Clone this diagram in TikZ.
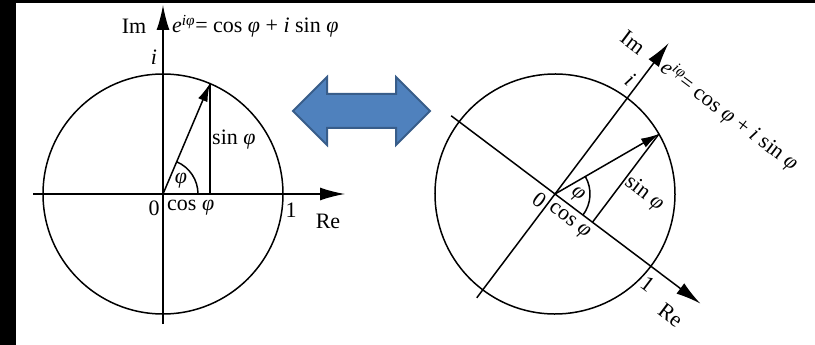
\documentclass[tikz,border=0pt]{standalone}
\usepackage{fontspec}
\setmainfont{Liberation Serif}
\usetikzlibrary{arrows.meta}
\newcommand\vphi{\textit{φ}}
\newcommand\eulerpic{%
  \coordinate (O) at (0,0);
  \coordinate (ReNeg) at (-130,0);
  \coordinate (RePos) at (182,0);
  \coordinate (ImNeg) at (0,-130);
  \coordinate (ImPos) at (0,189);
  \coordinate (P) at (67:120);
  \coordinate (F) at (P |- O);
  \coordinate (A) at (35,0);
  \draw[thinline] (O) circle[radius=120];
  \draw[axisarrow] (ReNeg) -- (RePos);
  \draw[axisarrow] (ImNeg) -- (ImPos);
  \draw[vecarrow] (O) -- (P);
  \draw[thinline] (P) -- (F);
  \draw[thinline] (A) arc[start angle=0,end angle=67,radius=35];
  \node[lbl] (im) at (-29,168) {Im};
  \node[lbl] (ii) at (-9,137) {\textit{i}};
  \node[lbl,anchor=base west] (eq) at (9,161) {\textit{e}\textsuperscript{\itshape iφ}= cos \vphi{} + \textit{i} sin \vphi};
  \node[lbl,anchor=west] (sn) at (49,54) {sin \vphi};
  \node[lbl] (ph) at (18,13) {\vphi};
  \node[lbl] (zero) at (-9,-14) {0};
  \node[lbl,anchor=west] (cs) at (4,-14) {cos \vphi};
  \node[lbl] (one) at (128,-16) {1};
  \node[lbl] (re) at (165,-27) {Re};
}
\tikzset{
  thinline/.style={line width=1.5pt, black},
  axisarrow/.style={thinline, -{Latex[length=25pt,width=13pt]}},
  vecarrow/.style={thinline, -{Latex[length=18pt,width=10pt]}},
  lbl/.style={font=\fontsize{22}{26}\selectfont, inner sep=0pt},
}
\begin{document}
\begin{tikzpicture}[x=1pt,y=1pt]
  \fill[black] (0,0) rectangle (815,-345);
  \fill[white] (16,-3) rectangle (815,-345);
  \useasboundingbox (0,0) rectangle (815,-345);
  \begin{scope}[shift={(163,-194)}, name prefix=L-]
    \eulerpic
  \end{scope}
  \begin{scope}[shift={(555,-194)}, rotate=-37, transform shape, name prefix=R-]
    \eulerpic
  \end{scope}
  \draw[fill={rgb,255:red,79;green,129;blue,189}, draw={rgb,255:red,56;green,93;blue,138}, line width=2pt, line join=miter]
    (293,-111) -- (327,-77) -- (327,-94) -- (396,-94) -- (396,-77) -- (430,-111)
    -- (396,-145) -- (396,-128) -- (327,-128) -- (327,-145) -- cycle;
\end{tikzpicture}
\end{document}
